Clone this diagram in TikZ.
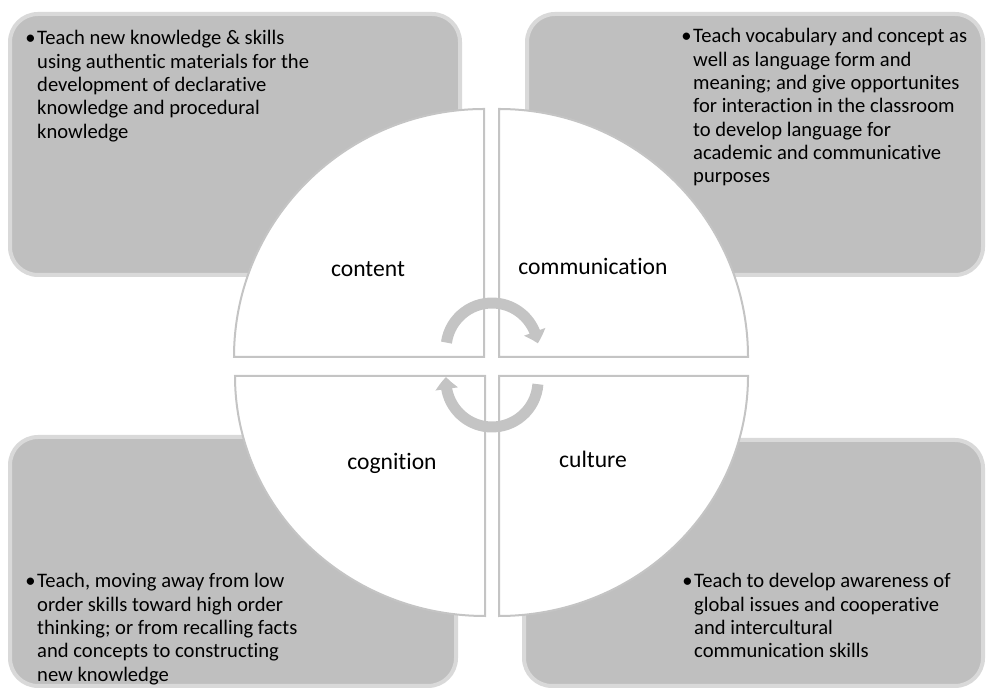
\documentclass[tikz,border=0pt]{standalone}
\usepackage{fontspec}
\setmainfont{Carlito}[Ligatures=NoCommon]
\usetikzlibrary{arrows.meta,bending}
\definecolor{boxfill}{HTML}{BFBFBF}
\definecolor{boxline}{HTML}{D9D9D9}
\definecolor{quadline}{HTML}{C4C4C4}
\definecolor{arrowcol}{HTML}{C4C4C4}
\newcommand{\blines}[1]{\begin{tabular}[t]{@{}l@{}}\llap{\textbullet\hspace{1.5pt}}#1\end{tabular}}
\begin{document}
\begin{tikzpicture}[x=1pt,y=1pt,
  panel/.style={fill=boxfill, draw=boxline, line width=4pt, rounded corners=28pt},
  quad/.style={fill=white, draw=quadline, line width=2pt},
  body/.style={inner sep=0pt, font=\fontsize{20.6}{23.3}\selectfont, anchor=base west},
  lab/.style={inner sep=0pt, font=\fontsize{23.6}{27}\selectfont, anchor=base},
  cyc/.style={draw=arrowcol, line width=11pt, -{Triangle[bend,width=22pt,length=12pt]}}]
\useasboundingbox (0,0) rectangle (987,690);
% panels
\draw[panel] (10,415) rectangle (460,676);
\draw[panel] (527,415) rectangle (983,676);
\draw[panel] (10,4) rectangle (456,253);
\draw[panel] (524,4) rectangle (983,250);
% quadrants
\draw[quad] (484,333) -- (234,333) arc[start angle=180, end angle=90, x radius=250, y radius=248] -- cycle;
\draw[quad] (499,333) -- (499,581) arc[start angle=90, end angle=0, x radius=249, y radius=248] -- cycle;
\draw[quad] (485,314) -- (235,314) arc[start angle=180, end angle=270, x radius=250, y radius=240] -- cycle;
\draw[quad] (499,314) -- (499,74) arc[start angle=270, end angle=360, x radius=249, y radius=240] -- cycle;
% cycle arrows
\draw[cyc] (492,341) ++(172:46) arc[start angle=172, end angle=7, radius=46];
\draw[cyc] (492,309) ++(-4:46) arc[start angle=-4, end angle=-185, radius=46];
% labels
\node[lab] (lcontent) at (368,413) {content};
\node[lab] (lcomm) at (593,415) {communication};
\node[lab] (lcog) at (392,220) {cognition};
\node[lab] (lcult) at (593,222) {culture};
% texts
\node[body] (tcontent) at (37,645) {\blines{Teach new knowledge \& skills\\
 using authentic materials for the\\
 development of declarative\\
 knowledge and procedural\\
 knowledge}};
\node[body] (tcomm) at (693,647) {\blines{Teach vocabulary and concept as\\
 well as language form and\\
 meaning; and give opportunites\\
 for interaction in the classroom\\
 to develop language for\\
 academic and communicative\\
 purposes}};
\node[body] (tcog) at (37,102) {\blines{Teach, moving away from low\\
 order skills toward high order\\
 thinking; or from recalling facts\\
 and concepts to constructing\\
 new knowledge}};
\node[body] (tcult) at (694,102) {\blines{Teach to develop awareness of\\
 global issues and cooperative\\
 and intercultural\\
 communication skills}};
\end{tikzpicture}
\end{document}
